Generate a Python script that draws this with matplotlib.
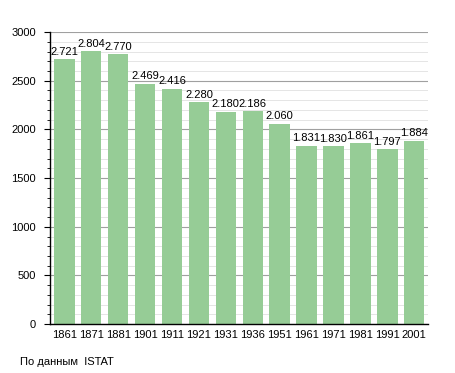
import matplotlib.pyplot as plt
from matplotlib.ticker import MultipleLocator

plt.rcParams['font.family'] = ['Liberation Sans', 'DejaVu Sans']

years = ['1861', '1871', '1881', '1901', '1911', '1921', '1931',
         '1936', '1951', '1961', '1971', '1981', '1991', '2001']
population = [2721, 2804, 2770, 2469, 2416, 2280, 2180,
              2186, 2060, 1831, 1830, 1861, 1797, 1884]
value_labels = ['2.721', '2.804', '2.770', '2.469', '2.416', '2.280', '2.180',
                '2.186', '2.060', '1.831', '1.830', '1.861', '1.797', '1.884']

fig = plt.figure(figsize=(4.55, 3.73), dpi=100)
ax = fig.add_axes([0.11, 0.131, 0.83, 0.783])

x = range(len(years))
ax.bar(x, population, width=0.76, color='#96cc96', zorder=2)

for i, (v, lab) in enumerate(zip(population, value_labels)):
    ax.text(i, v + 25, lab, ha='center', va='bottom', fontsize=8)

ax.set_xlim(-0.53, len(years) - 0.5)
ax.set_ylim(0, 3000)
ax.set_xticks(list(x))
ax.set_xticklabels(years, fontsize=8)
ax.tick_params(axis='x', length=0, pad=4)
ax.yaxis.set_major_locator(MultipleLocator(500))
ax.yaxis.set_minor_locator(MultipleLocator(100))
ax.tick_params(axis='y', which='major', labelsize=8, length=4, width=0.8,
               direction='out', pad=6)
ax.tick_params(axis='y', which='minor', length=2, width=0.6, direction='out')

ax.grid(axis='y', which='major', color='#a0a0a0', linewidth=0.8, zorder=0)
ax.grid(axis='y', which='minor', color='#e0e0e0', linewidth=0.6, zorder=0)
ax.set_axisbelow(True)

for s in ['top', 'right']:
    ax.spines[s].set_visible(False)
ax.spines['left'].set_linewidth(1)
ax.spines['bottom'].set_linewidth(1)

fig.text(20 / 455, 1 - 362 / 373, 'По данным  ISTAT', fontsize=8, va='center')

fig.savefig('out.png', dpi=100)
